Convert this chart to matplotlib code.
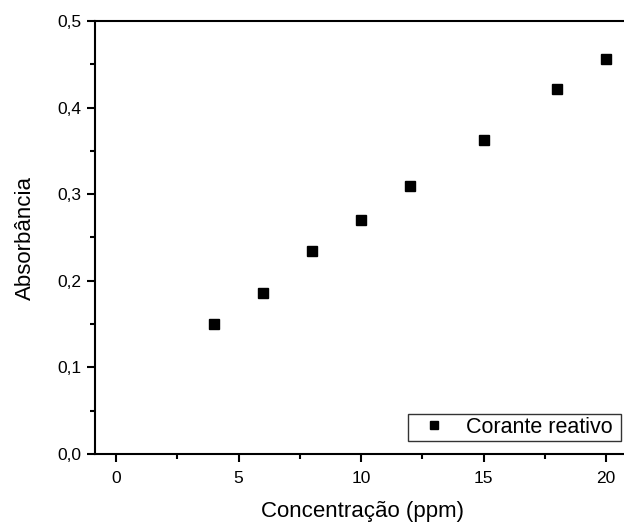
import matplotlib.pyplot as plt
from matplotlib.ticker import MultipleLocator, FuncFormatter

# Curva de calibração - corante reativo
conc = [4, 6, 8, 10, 12, 15, 18, 20]
absorb = [0.150, 0.186, 0.234, 0.270, 0.309, 0.363, 0.421, 0.456]
series_label = 'Corante reativo'

plt.rcParams['font.family'] = ['Liberation Sans', 'DejaVu Sans']

fig = plt.figure(figsize=(6.24, 5.22), dpi=100)
# axes extends past the right edge, like the cropped original
ax = fig.add_axes([95 / 624, 1 - 454 / 522, (116 + 21.0 * 24.5 - 95) / 624, 433 / 522])

ax.plot(conc, absorb, 's', color='black', markersize=6.5, label=series_label)

ax.set_xlim(-0.86, 21.0)
ax.set_ylim(0, 0.5)
ax.xaxis.set_major_locator(MultipleLocator(5))
ax.xaxis.set_minor_locator(MultipleLocator(2.5))
ax.yaxis.set_major_locator(MultipleLocator(0.1))
ax.yaxis.set_minor_locator(MultipleLocator(0.05))
ax.yaxis.set_major_formatter(FuncFormatter(lambda v, p: f'{v:.1f}'.replace('.', ',')))

ax.tick_params(which='both', direction='out', width=1.5, labelsize=12.5)
ax.tick_params(which='major', length=6)
ax.tick_params(which='minor', length=3.5)
ax.tick_params(axis='x', pad=6)
ax.tick_params(axis='y', pad=4)
for s in ax.spines.values():
    s.set_linewidth(1.5)

ax.set_xlabel('Concentração (ppm)', fontsize=16, labelpad=11)
ax.set_ylabel('Absorbância', fontsize=16, labelpad=15)

leg = ax.legend(loc='lower left', bbox_to_anchor=(408 / 624, 1 - 441 / 522, 213 / 624, 32 / 522),
                bbox_transform=fig.transFigure, mode='expand', fontsize=15.5, frameon=True,
                fancybox=False, edgecolor='black', borderaxespad=0, handletextpad=0.45,
                handlelength=2.1, borderpad=0.15, markerscale=0.9)
leg.get_frame().set_linewidth(1.0)

fig.savefig('out.png', dpi=100)
